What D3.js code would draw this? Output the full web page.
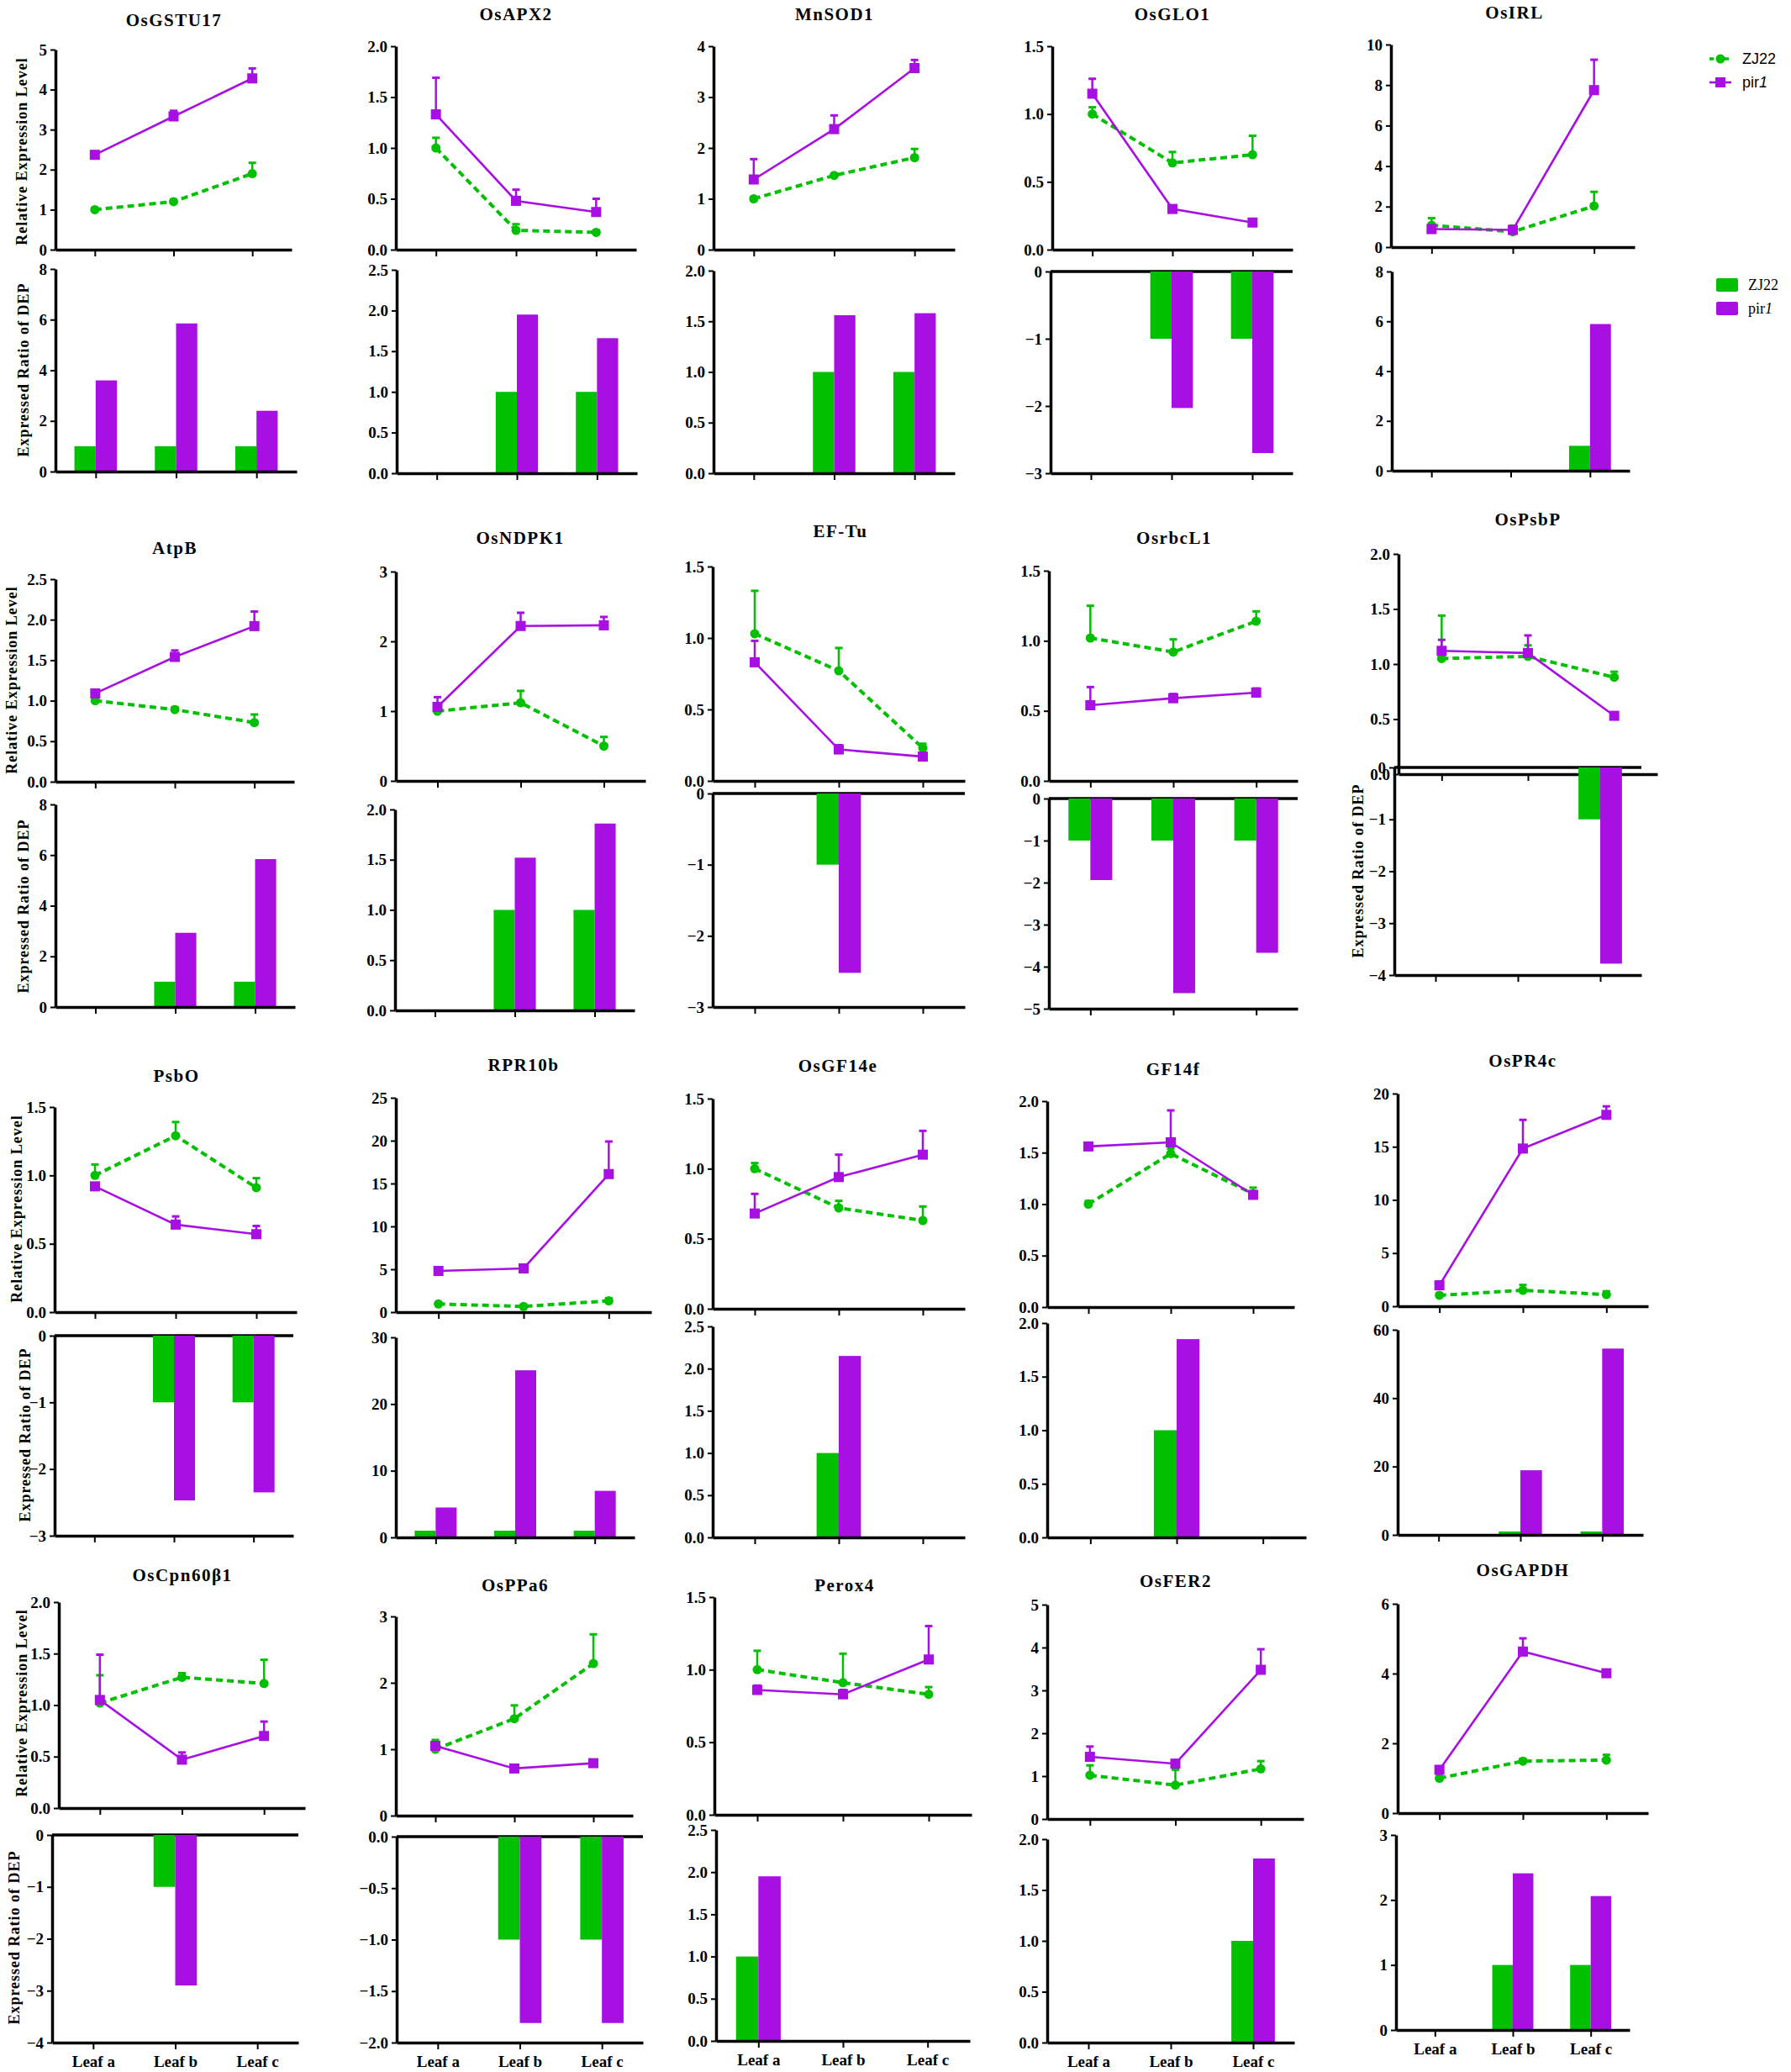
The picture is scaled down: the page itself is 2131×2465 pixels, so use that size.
<!DOCTYPE html>
<html>
<head>
<meta charset="utf-8">
<script src="https://cdn.jsdelivr.net/npm/d3@7"></script>
<style>
  body { margin: 0; background: #fff; }
  svg text { font-family: "Liberation Serif", "Times New Roman", serif; fill: #000; }
  .ax path, .ax line { stroke: #000; }
  .ax path { stroke-width: 3.5; }
  .ax line { stroke-width: 2; }
  .ax text { font-size: 19px; font-weight: bold; }
  .ttl { font-size: 21px; font-weight: bold; letter-spacing: 1.5px; }
  .ytl { font-size: 18px; font-weight: bold; letter-spacing: 1px; }
  .leg { font-family: "Liberation Sans", Arial, sans-serif !important; font-size: 18px; }
  .legb { font-size: 18px; }
</style>
</head>
<body>
<div id="chart"></div>
<script>
// ---- data ----
const leaves = ["Leaf a", "Leaf b", "Leaf c"];
const series = ["ZJ22", "pir1"];
const genes = ["OsGSTU17", "OsAPX2", "MnSOD1", "OsGLO1", "OsIRL",
  "AtpB", "OsNDPK1", "EF-Tu", "OsrbcL1", "OsPsbP",
  "PsbO", "RPR10b", "OsGF14e", "GF14f", "OsPR4c",
  "OsCpn60β1", "OsPPa6", "Perox4", "OsFER2", "OsGAPDH"];

// relative expression level (qPCR), mean and upper error
const zjLine = [[1.0, 1.2, 1.9], [1.0, 0.19, 0.17], [1.0, 1.46, 1.81], [1.0, 0.64, 0.70], [1.08, 0.76, 2.03],
  [1.0, 0.89, 0.73], [1.0, 1.12, 0.50], [1.03, 0.77, 0.23], [1.02, 0.92, 1.14], [1.05, 1.07, 0.88],
  [1.0, 1.29, 0.91], [0.95, 0.66, 1.32], [1.0, 0.72, 0.63], [1.0, 1.49, 1.10], [1.03, 1.5, 1.1],
  [1.02, 1.27, 1.21], [1.0, 1.46, 2.29], [1.0, 0.91, 0.83], [1.02, 0.79, 1.17], [1.0, 1.49, 1.52]];
const zjErr = [[0.04, 0.05, 0.27], [0.10, 0.06, 0.02], [0.03, 0.03, 0.17], [0.05, 0.08, 0.14], [0.35, 0.3, 0.7],
  [0.03, 0.03, 0.10], [0.03, 0.17, 0.13], [0.30, 0.16, 0.03], [0.23, 0.09, 0.07], [0.39, 0.10, 0.05],
  [0.08, 0.10, 0.07], [0.2, 0.2, 0.3], [0.04, 0.05, 0.10], [0.03, 0.05, 0.06], [0.2, 0.5, 0.3],
  [0.27, 0.04, 0.23], [0.14, 0.20, 0.44], [0.13, 0.20, 0.05], [0.23, 0.36, 0.18], [0.05, 0.06, 0.15]];
const pirLine = [[2.37, 3.33, 4.28], [1.33, 0.48, 0.37], [1.38, 2.37, 3.57], [1.15, 0.30, 0.20], [0.89, 0.85, 7.75],
  [1.09, 1.54, 1.92], [1.06, 2.22, 2.23], [0.83, 0.22, 0.17], [0.54, 0.59, 0.63], [1.12, 1.10, 0.53],
  [0.92, 0.64, 0.57], [4.8, 5.1, 16.1], [0.68, 0.94, 1.10], [1.56, 1.60, 1.09], [1.97, 14.83, 18.0],
  [1.05, 0.47, 0.70], [1.05, 0.71, 0.79], [0.86, 0.83, 1.07], [1.45, 1.29, 3.48], [1.24, 4.63, 4.01]];
const pirErr = [[0.04, 0.14, 0.25], [0.36, 0.11, 0.13], [0.40, 0.27, 0.16], [0.11, 0.02, 0.02], [0.1, 0.1, 1.5],
  [0.02, 0.08, 0.18], [0.14, 0.19, 0.12], [0.15, 0.03, 0.02], [0.13, 0.03, 0.03], [0.10, 0.16, 0.03],
  [0.02, 0.06, 0.06], [0.3, 0.3, 3.8], [0.14, 0.16, 0.17], [0.03, 0.31, 0.03], [0.3, 2.7, 0.8],
  [0.44, 0.07, 0.14], [0.05, 0.03, 0.05], [0.03, 0.03, 0.23], [0.24, 0.08, 0.48], [0.1, 0.38, 0.05]];

// expressed ratio of DEP (proteomics)
const zjBar = [[1, 1, 1], [0, 1, 1], [0, 1, 1], [0, -1, -1], [0, 0, 1],
  [0, 1, 1], [0, 1, 1], [0, -1, 0], [-1, -1, -1], [0, 0, -1],
  [0, -1, -1], [1, 1, 1], [0, 1, 0], [0, 1, 0], [0, 1, 1],
  [0, -1, 0], [0, -1, -1], [1, 0, 0], [0, 0, 1], [0, 1, 1]];
const pirBar = [[3.6, 5.85, 2.4], [0, 1.95, 1.66], [0, 1.56, 1.58], [0, -2.03, -2.70], [0, 0, 5.89],
  [0, 2.93, 5.84], [0, 1.52, 1.86], [0, -2.52, 0], [-1.94, -4.63, -3.67], [0, 0, -3.78],
  [0, -2.47, -2.35], [4.48, 25.06, 6.98], [0, 2.15, 0], [0, 1.85, 0], [0, 18.9, 54.5],
  [0, -2.90, 0], [0, -1.81, -1.81], [1.95, 0, 0], [0, 0, 1.81], [0, 2.41, 2.06]];

// tick values
const lineTicks = [[0, 1, 2, 3, 4, 5], [0, 0.5, 1, 1.5, 2], [0, 1, 2, 3, 4], [0, 0.5, 1, 1.5], [0, 2, 4, 6, 8, 10],
  [0, 0.5, 1, 1.5, 2, 2.5], [0, 1, 2, 3], [0, 0.5, 1, 1.5], [0, 0.5, 1, 1.5], [0, 0.5, 1, 1.5, 2],
  [0, 0.5, 1, 1.5], [0, 5, 10, 15, 20, 25], [0, 0.5, 1, 1.5], [0, 0.5, 1, 1.5, 2], [0, 5, 10, 15, 20],
  [0, 0.5, 1, 1.5, 2], [0, 1, 2, 3], [0, 0.5, 1, 1.5], [0, 1, 2, 3, 4, 5], [0, 2, 4, 6]];
const barTicks = [[0, 2, 4, 6, 8], [0, 0.5, 1, 1.5, 2, 2.5], [0, 0.5, 1, 1.5, 2], [-3, -2, -1, 0], [0, 2, 4, 6, 8],
  [0, 2, 4, 6, 8], [0, 0.5, 1, 1.5, 2], [-3, -2, -1, 0], [-5, -4, -3, -2, -1, 0], [-4, -3, -2, -1, 0],
  [-3, -2, -1, 0], [0, 10, 20, 30], [0, 0.5, 1, 1.5, 2, 2.5], [0, 0.5, 1, 1.5, 2], [0, 20, 40, 60],
  [-4, -3, -2, -1, 0], [-2, -1.5, -1, -0.5, 0], [0, 0.5, 1, 1.5, 2, 2.5], [0, 0.5, 1, 1.5, 2], [0, 1, 2, 3]];

// ---- layout (plot boxes x0,y0,x1,y1 and title anchors) ----
const lineBox = [[66, 59, 347, 297], [471, 55, 757, 297], [849, 55, 1136, 297], [1252, 55, 1538, 297], [1655, 53, 1945, 294],
  [66, 689, 350, 930], [471, 680, 768, 929], [848, 674, 1148, 929], [1248, 679, 1544, 929], [1664, 659, 1972, 921],
  [65, 1317, 353, 1561], [471, 1306, 775, 1561], [848, 1307, 1148, 1557], [1246, 1310, 1540, 1555], [1663, 1301, 1961, 1554],
  [70, 1906, 363, 2151], [471, 1923, 753, 2160], [850, 1900, 1156, 2159], [1246, 1909, 1551, 2164], [1663, 1908, 1961, 2157]];
const barBox = [[66, 320, 353, 561], [472, 321, 758, 563], [849, 322, 1136, 563], [1250, 323, 1538, 563], [1656, 323, 1939, 560],
  [66, 957, 351, 1198], [470, 963, 755, 1202], [848, 944, 1148, 1198], [1248, 950, 1544, 1200], [1659, 913, 1953, 1160],
  [65, 1589, 349, 1827], [471, 1591, 755, 1829], [848, 1578, 1148, 1829], [1246, 1574, 1554, 1829], [1663, 1582, 1955, 1826],
  [62, 2183, 355, 2430], [472, 2185, 765, 2430], [852, 2177, 1154, 2428], [1246, 2188, 1540, 2430], [1661, 2183, 1939, 2415]];
const titlePos = [[207, 24], [614, 17], [993, 17], [1395, 17], [1802, 15],
  [208, 652], [619, 640], [1000, 632], [1397, 640], [1818, 618],
  [210, 1280], [623, 1267], [997, 1268], [1396, 1272], [1812, 1262],
  [217, 1874], [613, 1886], [1005, 1886], [1399, 1881], [1812, 1868]];
// rotated axis titles: [x, centre y]
const yTitleLine = [[26, 180], [14, 809], [20, 1438], [26, 2026]];
const yTitleBar = [[28, 440], [28, 1078], [30, 1707], [17, 2305], [1616, 1036]];

const W = 2131, H = 2465;
const GREEN = "#00c000", PURPLE = "#a70fe2";

const svg = d3.select("#chart").append("svg").attr("width", W).attr("height", H);
svg.append("rect").attr("width", W).attr("height", H).attr("fill", "#fff");

function styleAxis(g) {
  g.attr("class", "ax");
  g.selectAll("text").attr("fill", "#000");
}
const fmtFor = (t) => d3.format(t.some((v) => !Number.isInteger(v)) ? ".1f" : "d");

genes.forEach((gene, i) => {
  // ---- line plot ----
  const [lx0, ly0, lx1, ly1] = lineBox[i];
  const lt = lineTicks[i];
  const x = d3.scalePoint().domain(leaves).range([lx0, lx1]).padding(0.5);
  const y = d3.scaleLinear().domain([lt[0], lt[lt.length - 1]]).range([ly1, ly0]);

  svg.append("g").attr("transform", `translate(${lx0},0)`)
    .call(d3.axisLeft(y).tickValues(lt).tickFormat(fmtFor(lt)).tickSize(6).tickSizeOuter(0).tickPadding(4))
    .call(styleAxis);
  svg.append("g").attr("transform", `translate(0,${ly1})`)
    .call(d3.axisBottom(x).tickFormat("").tickSize(8).tickSizeOuter(0))
    .call(styleAxis);

  const groups = [
    { vals: zjLine[i], err: zjErr[i], col: GREEN, dash: "8,5", w: 4, shape: "circle" },
    { vals: pirLine[i], err: pirErr[i], col: PURPLE, dash: null, w: 2.6, shape: "square" }
  ];
  const line = d3.line().x((d, j) => x(leaves[j])).y((d) => y(d));
  groups.forEach((s) => {
    const g = svg.append("g");
    g.append("path").datum(s.vals).attr("d", line).attr("fill", "none")
      .attr("stroke", s.col).attr("stroke-width", s.w).attr("stroke-dasharray", s.dash);
    s.vals.forEach((v, j) => {
      const cx = x(leaves[j]);
      const yt = y(v + s.err[j]);
      g.append("line").attr("x1", cx).attr("x2", cx).attr("y1", y(v)).attr("y2", yt)
        .attr("stroke", s.col).attr("stroke-width", 2.5);
      g.append("line").attr("x1", cx - 4.5).attr("x2", cx + 4.5).attr("y1", yt).attr("y2", yt)
        .attr("stroke", s.col).attr("stroke-width", 3);
      if (s.shape === "circle") {
        g.append("circle").attr("cx", cx).attr("cy", y(v)).attr("r", 5.5).attr("fill", s.col);
      } else {
        g.append("rect").attr("x", cx - 6).attr("y", y(v) - 6).attr("width", 12).attr("height", 12).attr("fill", s.col);
      }
    });
  });

  // ---- bar plot ----
  const [bx0, by0, bx1, by1] = barBox[i];
  const bt = barTicks[i];
  const xb = d3.scalePoint().domain(leaves).range([bx0, bx1]).padding(0.5);
  const yb = d3.scaleLinear().domain([bt[0], bt[bt.length - 1]]).range([by1, by0]);
  const bw = (bx1 - bx0) * 0.088;
  const sub = d3.scaleBand().domain(series).range([-bw, bw]);

  if (bt[bt.length - 1] === 0) {
    svg.append("line").attr("x1", bx0).attr("x2", bx1).attr("y1", yb(0)).attr("y2", yb(0))
      .attr("stroke", "#000").attr("stroke-width", 3.5);
  }
  const bars = svg.append("g");
  [zjBar[i], pirBar[i]].forEach((vals, k) => {
    bars.selectAll(null).data(vals).join("rect")
      .attr("x", (d, j) => xb(leaves[j]) + sub(series[k]))
      .attr("width", sub.bandwidth())
      .attr("y", (d) => Math.min(yb(0), yb(d)))
      .attr("height", (d) => Math.abs(yb(d) - yb(0)))
      .attr("fill", k === 0 ? GREEN : PURPLE);
  });

  svg.append("g").attr("transform", `translate(${bx0},0)`)
    .call(d3.axisLeft(yb).tickValues(bt).tickFormat(fmtFor(bt)).tickSize(6).tickSizeOuter(0).tickPadding(4))
    .call(styleAxis);
  const lastRow = i >= 15;
  svg.append("g").attr("transform", `translate(0,${by1})`)
    .call(d3.axisBottom(xb).tickFormat(lastRow ? null : "").tickSize(8).tickSizeOuter(0).tickPadding(8))
    .call(styleAxis)
    .call((g) => g.selectAll("text").style("font-size", "19px"));

  // ---- title ----
  svg.append("text").attr("class", "ttl")
    .attr("x", titlePos[i][0]).attr("y", titlePos[i][1]).attr("dy", "0.35em")
    .attr("text-anchor", "middle")
    .text(gene);
});

// rotated axis titles
function yTitle(pos, txt) {
  svg.append("text").attr("class", "ytl")
    .attr("transform", `translate(${pos[0]},${pos[1]}) rotate(-90)`)
    .attr("text-anchor", "middle").attr("dy", "0.35em").text(txt);
}
yTitleLine.forEach((p) => yTitle(p, "Relative Expression Level"));
yTitleBar.forEach((p) => yTitle(p, "Expressed Ratio of DEP"));

// legend for the line plots
const legL = svg.append("g");
[0, 1].forEach((k) => {
  const cy = 70 + k * 28, cx = 2047, col = k === 0 ? GREEN : PURPLE;
  legL.append("line").attr("x1", cx - 13).attr("x2", cx + 13).attr("y1", cy).attr("y2", cy)
    .attr("stroke", col).attr("stroke-width", k === 0 ? 3.5 : 2.6).attr("stroke-dasharray", k === 0 ? "5,4" : null);
  if (k === 0) legL.append("circle").attr("cx", cx).attr("cy", cy).attr("r", 5.5).attr("fill", col);
  else legL.append("rect").attr("x", cx - 6).attr("y", cy - 6).attr("width", 12).attr("height", 12).attr("fill", col);
  const t = legL.append("text").attr("class", "leg").attr("x", 2073).attr("y", cy).attr("dy", "0.35em");
  if (k === 0) t.text("ZJ22");
  else { t.append("tspan").text("pir"); t.append("tspan").style("font-style", "italic").text("1"); }
});

// legend for the bar plots
const legB = svg.append("g");
[0, 1].forEach((k) => {
  const cy = 339 + k * 28;
  legB.append("rect").attr("x", 2042).attr("y", cy - 8).attr("width", 26).attr("height", 16)
    .attr("rx", 2).attr("fill", k === 0 ? GREEN : PURPLE);
  const t = legB.append("text").attr("class", "legb").attr("x", 2080).attr("y", cy).attr("dy", "0.35em");
  if (k === 0) t.text("ZJ22");
  else { t.append("tspan").text("pir"); t.append("tspan").style("font-style", "italic").text("1"); }
});
</script>
</body>
</html>
